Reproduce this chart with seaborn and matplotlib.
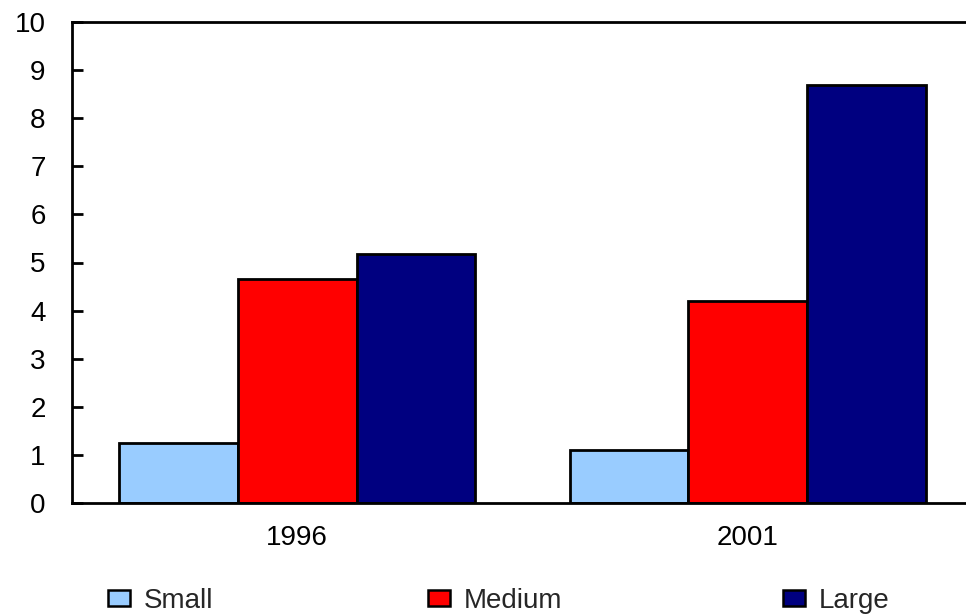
import pandas as pd
import matplotlib
matplotlib.use("Agg")
import matplotlib.pyplot as plt
import matplotlib.patches as mpatches
import seaborn as sns

years = ['1996', '2001']
sizes = ['Small', 'Medium', 'Large']
small = [1.24, 1.11]
medium = [4.65, 4.20]
large = [5.17, 8.68]
colors = ['#99CCFF', '#FF0000', '#000080']

df = pd.DataFrame({
    'year': years * 3,
    'size': ['Small'] * 2 + ['Medium'] * 2 + ['Large'] * 2,
    'value': small + medium + large,
})

sns.set_style('white')
plt.rcParams['font.family'] = ['Liberation Sans', 'DejaVu Sans']

fig = plt.figure(figsize=(9.66, 6.15), dpi=100)
ax = fig.add_axes([72 / 966, 1 - 503 / 615, (973 - 72) / 966, (503 - 22) / 615])

sns.barplot(data=df, x='year', y='value', hue='size', hue_order=sizes,
            palette=colors, width=0.79, edgecolor='black', linewidth=2,
            saturation=1, legend=False, ax=ax)

ax.set_xlim(-0.5, 1.5)
ax.set_ylim(0, 10)
ax.set_yticks(range(0, 11))
ax.set_xlabel('')
ax.set_ylabel('')

for side in ['left', 'bottom', 'top']:
    ax.spines[side].set_color('black')
    ax.spines[side].set_linewidth(2)
ax.spines['right'].set_visible(False)

ax.tick_params(axis='y', direction='in', length=8, width=2, pad=19,
               labelsize=20, colors='black', left=True)
ax.tick_params(axis='x', length=0, pad=16, labelsize=20, colors='black')

# legend entries spread along the bottom, one per size
leg_x = [108, 428, 783]
for name, col, x in zip(sizes, colors, leg_x):
    patch = mpatches.Patch(facecolor=col, edgecolor='black', linewidth=1.8)
    fig.legend([patch], [name], loc='center left',
               bbox_to_anchor=(x / 966, 1 - 601 / 615),
               frameon=False, fontsize=20, borderpad=0, borderaxespad=0,
               handlelength=0.8, handleheight=0.5, handletextpad=0.5)

fig.savefig('out.png', dpi=100)
